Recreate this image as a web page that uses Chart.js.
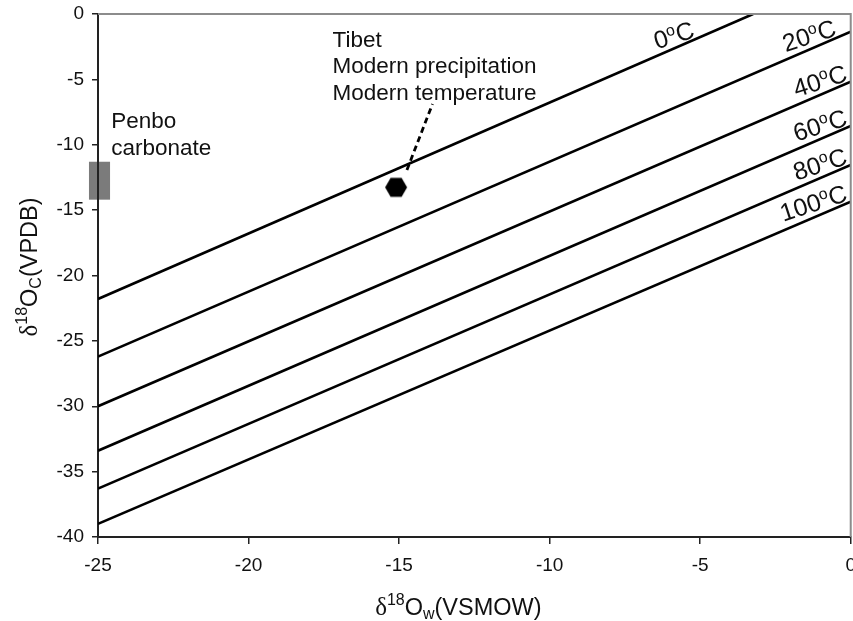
<!DOCTYPE html>
<html><head><meta charset="utf-8">
<script src="https://cdn.jsdelivr.net/npm/chart.js@4.4.0/dist/chart.umd.min.js"></script>
<style>html,body{margin:0;padding:0;background:#fff;overflow:hidden;width:853px;height:621px}#wrap{width:866px;height:621px;position:relative}</style>
</head><body><div id="wrap"><canvas id="c"></canvas></div>
<script>
// ---- data ----
const xTickValues=[-25,-20,-15,-10,-5,0];
const yTickValues=[-40,-35,-30,-25,-20,-15,-10,-5,0];
const tempLabels=['0','20','40','60','80','100'];
const lineX0=[-25,-25,-25,-25,-25,-25];
const lineY0=[-21.8,-26.2,-30.0,-33.4,-36.3,-39.0];
const lineX1=[-3.24,0,0,0,0,0];
const lineY1=[0,-1.35,-5.17,-8.56,-11.54,-14.35];
const labelX=[-5.14,-0.43,-0.07,-0.07,-0.07,-0.07];
const tibetX=[-15.1];
const tibetY=[-13.26];
const leaderX=[-14.74,-13.89];
const leaderY=[-11.93,-6.88];
const penboX=[-25.3,-24.6];
const penboY=[-14.2,-11.3];
const tibetText=['Tibet','Modern precipitation','Modern temperature'];
const penboText=['Penbo','carbonate'];

// ---- annotation placement (data units) ----
const tibetTextPos={x:-17.21,y:-2.5};
const penboTextPos={x:-24.56,y:-8.72};

const SANS='"Liberation Sans", Arial, sans-serif';
const SERIF='"Liberation Serif", "Times New Roman", serif';
const LABEL_ANGLE=-18*Math.PI/180;

function hexCanvas(r){
  const s=Math.ceil(2*r+2);const c=document.createElement('canvas');c.width=s;c.height=s;
  const g=c.getContext('2d');g.fillStyle='#000';g.beginPath();
  for(let k=0;k<6;k++){const a=k*Math.PI/3;const px=s/2+r*Math.cos(a),py=s/2+r*Math.sin(a);k?g.lineTo(px,py):g.moveTo(px,py);}
  g.closePath();g.fill();return c;
}

function drawRich(ctx,parts,x,y,align){
  let w=0;
  parts.forEach(p=>{ctx.font=p.font;p.w=ctx.measureText(p.t).width;w+=p.w;});
  let cx = align==='center'? x-w/2 : (align==='right'? x-w : x);
  ctx.textAlign='left';ctx.textBaseline='alphabetic';
  parts.forEach(p=>{ctx.font=p.font;ctx.fillText(p.t,cx,y+(p.dy||0));cx+=p.w;});
}

const datasets=[];
for(let i=0;i<tempLabels.length;i++){
  datasets.push({type:'line',label:tempLabels[i]+'°C',data:[{x:lineX0[i],y:lineY0[i]},{x:lineX1[i],y:lineY1[i]}],
    borderColor:'#000',borderWidth:2.6,pointRadius:0,showLine:true,fill:false,tension:0});
}
datasets.push({type:'line',label:'leader',data:leaderX.map((v,i)=>({x:v,y:leaderY[i]})),
  borderColor:'#000',borderWidth:2.8,borderDash:[6,4],pointRadius:0,showLine:true,fill:false});
datasets.push({type:'scatter',label:'Tibet',data:tibetX.map((v,i)=>({x:v,y:tibetY[i]})),
  pointStyle:hexCanvas(11),pointRadius:11,backgroundColor:'#000',borderColor:'#000'});

const annot={
  id:'annot',
  beforeDraw(chart){
    const {ctx,scales:{x,y}}=chart;
    ctx.save();
    ctx.fillStyle='#7b7b7b';
    const x0=x.getPixelForValue(penboX[0]),x1=x.getPixelForValue(penboX[1]);
    const y0=y.getPixelForValue(penboY[0]),y1=y.getPixelForValue(penboY[1]);
    ctx.fillRect(x0,y1,x1-x0,y0-y1);
    ctx.restore();
  },
  afterDraw(chart){
    const {ctx,chartArea:a,scales:{x,y}}=chart;
    ctx.save();
    ctx.strokeStyle='#8c8c8c';ctx.lineWidth=2;
    ctx.beginPath();ctx.moveTo(a.left,a.top);ctx.lineTo(a.right,a.top);ctx.lineTo(a.right,a.bottom);ctx.stroke();
    ctx.fillStyle='#111';
    for(let i=0;i<tempLabels.length;i++){
      const lx=labelX[i];
      const t=(lx-lineX0[i])/(lineX1[i]-lineX0[i]);
      const ly=lineY0[i]+t*(lineY1[i]-lineY0[i]);
      const px=x.getPixelForValue(lx),py=y.getPixelForValue(ly);
      ctx.save();ctx.translate(px,py-2);ctx.rotate(LABEL_ANGLE);
      drawRich(ctx,[{t:tempLabels[i],font:'25px '+SANS},{t:'o',font:'16px '+SANS,dy:-9},{t:'C',font:'25px '+SANS}],0,0,'right');
      ctx.restore();
    }
    ctx.font='22.5px '+SANS;ctx.textAlign='left';ctx.textBaseline='alphabetic';
    let tx=x.getPixelForValue(tibetTextPos.x),ty=y.getPixelForValue(tibetTextPos.y);
    tibetText.forEach((s,k)=>ctx.fillText(s,tx,ty+k*26.7));
    tx=x.getPixelForValue(penboTextPos.x);ty=y.getPixelForValue(penboTextPos.y);
    penboText.forEach((s,k)=>ctx.fillText(s,tx,ty+k*27));
    drawRich(ctx,[{t:'δ',font:'25px '+SERIF},{t:'18',font:'16px '+SANS,dy:-10},{t:'O',font:'23.5px '+SANS},{t:'w',font:'16px '+SANS,dy:4},{t:'(VSMOW)',font:'23.5px '+SANS}],(a.left+a.right)/2-16,615,'center');
    ctx.save();ctx.translate(37,267);ctx.rotate(-Math.PI/2);
    drawRich(ctx,[{t:'δ',font:'25px '+SERIF},{t:'18',font:'16px '+SANS,dy:-10},{t:'O',font:'23.5px '+SANS},{t:'C',font:'16px '+SANS,dy:4},{t:'(VPDB)',font:'23.5px '+SANS}],0,0,'center');
    ctx.restore();
    ctx.restore();
  }
};

new Chart(document.getElementById('c'),{
  type:'scatter',
  data:{datasets},
  options:{
    responsive:true,maintainAspectRatio:false,animation:false,
    layout:{padding:{left:0,top:14,right:1,bottom:0}},
    plugins:{legend:{display:false},tooltip:{enabled:false},title:{display:false}},
    scales:{
      x:{type:'linear',min:-25,max:0,
        afterBuildTicks(s){s.ticks=xTickValues.map(v=>({value:v}));},
        ticks:{color:'#111',font:{family:SANS,size:19},padding:10,maxRotation:0},
        grid:{drawOnChartArea:false,drawTicks:true,tickLength:7,color:'#222',lineWidth:1.5},
        border:{display:true,color:'#222',width:2},
        afterFit(s){s.height=84;}
      },
      y:{type:'linear',min:-40,max:0,
        afterBuildTicks(s){s.ticks=yTickValues.map(v=>({value:v}));},
        ticks:{color:'#111',font:{family:SANS,size:19},padding:8},
        grid:{drawOnChartArea:false,drawTicks:true,tickLength:6,color:'#222',lineWidth:1.5},
        border:{display:true,color:'#222',width:2},
        afterFit(s){s.width=98;s.paddingTop=0;s.paddingBottom=0;}
      }
    }
  },
  plugins:[annot]
});
</script></body></html>
